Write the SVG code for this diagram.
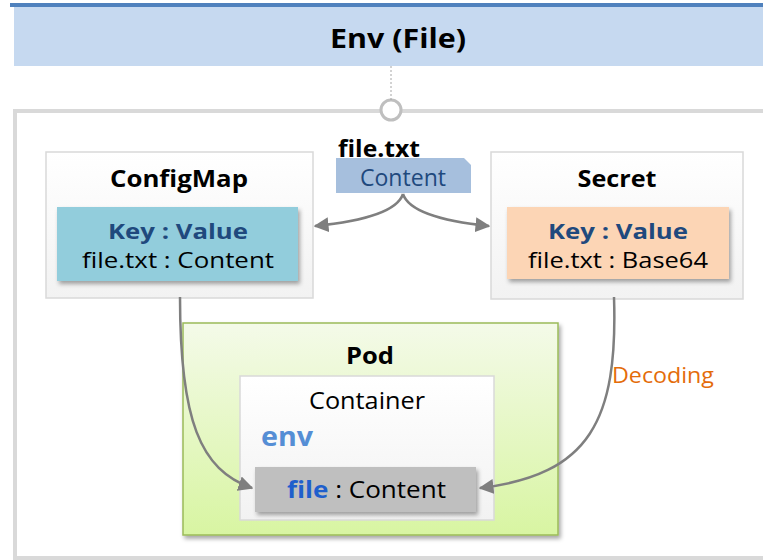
<svg xmlns="http://www.w3.org/2000/svg" width="763" height="560" viewBox="0 0 763 560">
<defs>
<style>
text{font-family:"Open Sans","Noto Sans","Liberation Sans",sans-serif;}
.t{font-weight:bold;font-size:23px;fill:#000;text-anchor:middle}
.kv{font-weight:bold;font-size:21px;fill:#1f497d;text-anchor:middle}
.v{font-size:21px;fill:#000;text-anchor:middle}
.conn{fill:none;stroke:#7f7f7f;stroke-width:2.5}
</style>
<linearGradient id="gw" x1="0" y1="0" x2="0" y2="1"><stop offset="0" stop-color="#ffffff"/><stop offset="1" stop-color="#f2f2f2"/></linearGradient>
<linearGradient id="gp" x1="0" y1="0" x2="0" y2="1"><stop offset="0" stop-color="#f4fae9"/><stop offset="1" stop-color="#d8f5a2"/></linearGradient>
<filter id="sh" x="-10%" y="-10%" width="125%" height="130%"><feDropShadow dx="2" dy="3" stdDeviation="2" flood-color="#000" flood-opacity="0.35"/></filter>
<marker id="ah" viewBox="0 0 10 10" refX="9" refY="5" markerWidth="6" markerHeight="6" orient="auto" markerUnits="strokeWidth"><path d="M0,0 L10,5 L0,10 z" fill="#7f7f7f"/></marker>
</defs>
<rect x="0" y="0" width="763" height="560" fill="#fff"/>
<g id="banner">
<rect x="14" y="6" width="760" height="60" fill="#c6d9f0"/>
<rect x="10" y="3" width="760" height="4" fill="#4f81bd"/>
<text x="398" y="48" style="font-weight:bold;font-size:26px;text-anchor:middle" textLength="136" lengthAdjust="spacingAndGlyphs">Env (File)</text>
</g>
<g id="outer">
<rect x="15" y="111" width="760" height="447" fill="#fff" stroke="#d9d9d9" stroke-width="4"/>
</g>
<g id="circle"><circle cx="391" cy="110" r="10" fill="#fff" stroke="#bfbfbf" stroke-width="3"/></g>
<g id="configmap">
<rect x="46" y="152" width="267" height="146" fill="url(#gw)" stroke="#d9d9d9" stroke-width="1.5"/>
<text class="t" x="179" y="187" textLength="138" lengthAdjust="spacingAndGlyphs">ConfigMap</text>
<rect x="57" y="207" width="241" height="74" fill="#92cddc" filter="url(#sh)"/>
<text class="kv" x="178" y="239" textLength="140" lengthAdjust="spacingAndGlyphs">Key : Value</text>
<text class="v" x="178" y="268" textLength="192" lengthAdjust="spacingAndGlyphs">file.txt : Content</text>
</g>
<g id="secret">
<rect x="491" y="152" width="252" height="147" fill="url(#gw)" stroke="#d9d9d9" stroke-width="1.5"/>
<text class="t" x="617" y="187" textLength="79" lengthAdjust="spacingAndGlyphs">Secret</text>
<rect x="507" y="207" width="222" height="72" fill="#fcd5b5" filter="url(#sh)"/>
<text class="kv" x="618" y="239" textLength="140" lengthAdjust="spacingAndGlyphs">Key : Value</text>
<text class="v" x="618" y="268" textLength="180" lengthAdjust="spacingAndGlyphs">file.txt : Base64</text>
</g>
<g id="file-label">
<text x="379" y="157" style="font-weight:bold;font-size:23px;text-anchor:middle" textLength="82" lengthAdjust="spacingAndGlyphs">file.txt</text>
<path d="M336,158 L464,158 L471,165 L471,193 L336,193 z" fill="#a6bfdd"/>
<text x="403" y="186" style="font-size:23px;fill:#1f497d;text-anchor:middle" textLength="86" lengthAdjust="spacingAndGlyphs">Content</text>
</g>
<g id="pod">
<rect x="183" y="323" width="375" height="212" fill="url(#gp)" stroke="#9bbb59" stroke-width="1.5" filter="url(#sh)"/>
<text class="t" x="370" y="364" textLength="48" lengthAdjust="spacingAndGlyphs">Pod</text>
</g>
<g id="container">
<rect x="240" y="376" width="254" height="144" fill="url(#gw)" stroke="#d9d9d9" stroke-width="1.5"/>
<text x="367" y="409" style="font-size:23px;text-anchor:middle" textLength="116" lengthAdjust="spacingAndGlyphs">Container</text>
<text x="261" y="446" style="font-weight:bold;font-size:27px;fill:#558ed5" textLength="52" lengthAdjust="spacingAndGlyphs">env</text>
</g>
<g id="file-entry">
<rect x="255" y="467" width="221" height="45" fill="#bfbfbf" filter="url(#sh)"/>
<text x="287" y="498" style="font-size:24px" textLength="159" lengthAdjust="spacingAndGlyphs"><tspan style="font-weight:bold;fill:#1f5fcc">file</tspan> : Content</text>
</g>
<g id="decoding-label">
<text x="612" y="383" style="font-size:21px;fill:#e46c0a" textLength="102" lengthAdjust="spacingAndGlyphs">Decoding</text>
</g>
<g id="connectors">
<line x1="391" y1="66" x2="391" y2="100" stroke="#a6a6a6" stroke-width="1" stroke-dasharray="2,2"/>
<path class="conn" d="M403,194 Q395,218 315,226" marker-end="url(#ah)"/>
<path class="conn" d="M403,194 Q411,218 489,226" marker-end="url(#ah)"/>
<path class="conn" d="M180,297 C180,420 200,470 252,488" marker-end="url(#ah)"/>
<path class="conn" d="M614,297 C618,420 590,475 480,488" marker-end="url(#ah)"/>
</g>
</svg>
